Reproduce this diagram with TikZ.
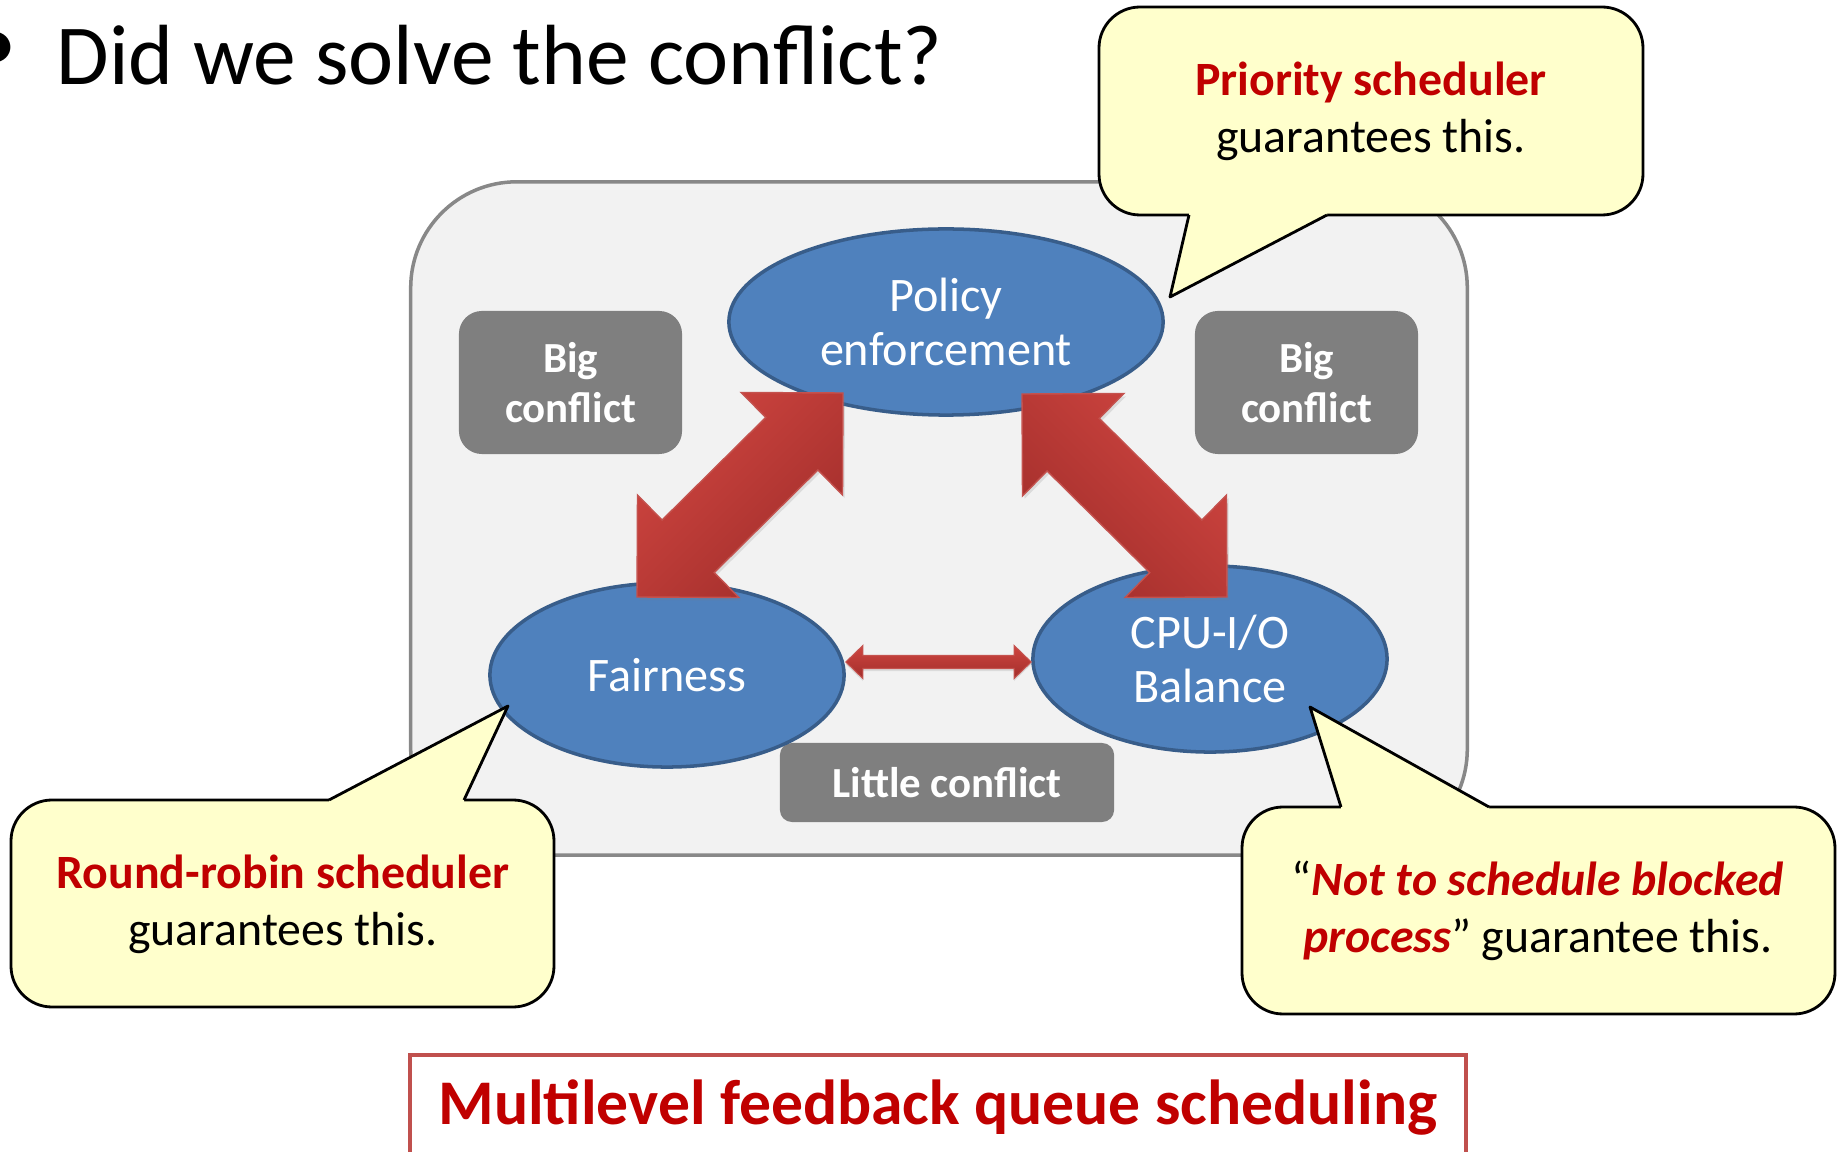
\documentclass[tikz,border=0pt]{standalone}
\usepackage{fontspec}
\setmainfont{Carlito}
\usetikzlibrary{positioning,calc,shapes.geometric,shadows}

\definecolor{goalblue}{HTML}{4F81BD}
\definecolor{goaledge}{HTML}{385D8A}
\definecolor{taggray}{HTML}{7F7F7F}
\definecolor{panelfill}{HTML}{F2F2F2}
\definecolor{paneledge}{HTML}{888888}
\definecolor{noteyellow}{HTML}{FFFFCC}
\definecolor{darkred}{HTML}{C00000}
\definecolor{framered}{HTML}{C0504D}
\definecolor{arrowlight}{HTML}{CF4540}
\definecolor{arrowdark}{HTML}{A22E2B}
\definecolor{arrowedge}{HTML}{C4524E}

% fat double arrow: style, from, to, shaft half width, head length, head half width
\newcommand{\fatarrow}[6]{%
  \coordinate (fa1) at ($(#2)!#5!(#3)$);
  \coordinate (fa2) at ($(#3)!#5!(#2)$);
  \path[#1] (#2) -- ($(fa1)!#6!90:(#3)$) -- ($(fa1)!#4!90:(#3)$)
    -- ($(fa2)!#4!-90:(#2)$) -- ($(fa2)!#6!-90:(#2)$) -- (#3)
    -- ($(fa2)!#6!90:(#2)$) -- ($(fa2)!#4!90:(#2)$)
    -- ($(fa1)!#4!-90:(#3)$) -- ($(fa1)!#6!-90:(#3)$) -- cycle;
}

\begin{document}
\begin{tikzpicture}[
    x=0.01cm, y=-0.01cm,
    panel/.style={draw=paneledge, fill=panelfill, line width=1pt, rounded corners=1.06cm},
    goal/.style={ellipse, draw=goaledge, fill=goalblue, line width=1pt, text=white,
                 align=center, inner sep=0pt, font=\fontsize{13.7}{15.6}\selectfont},
    tag/.style={fill=taggray, rounded corners=0.23cm, text=white, align=center,
                font=\bfseries\fontsize{12.2}{14.2}\selectfont},
    note/.style={draw=black, fill=noteyellow, line width=0.8pt, line join=round},
    notetext/.style={align=center, inner sep=0pt, font=\fontsize{13.6}{16.2}\selectfont},
    bigarr/.style={draw=arrowedge, line width=0.4pt, left color=arrowlight, right color=arrowdark,
                   drop shadow={shadow xshift=0.02cm, shadow yshift=-0.03cm, opacity=0.2}},
  ]
  \useasboundingbox (0,0) rectangle (1841,1152);

  % Heading
  \node[inner sep=0pt, font=\fontsize{24.3}{29}\selectfont] (bullet) at (-4,52) {•};
  \node[anchor=base west, inner sep=0pt, font=\fontsize{24.3}{29}\selectfont]
       (title) at (56,85) {Did we solve the conflict?};

  % Grey panel with the three goals
  \node[panel, minimum width=10.56cm, minimum height=6.73cm] (panel) at (939,518.5) {};
  \node[tag, minimum width=2.23cm, minimum height=1.43cm] (bigL) at (570.5,382.5) {Big\\conflict};
  \node[tag, minimum width=2.23cm, minimum height=1.43cm] (bigR) at (1306.5,382.5) {Big\\conflict};
  \node[tag, minimum width=3.34cm, minimum height=0.79cm, rounded corners=0.12cm]
       (little) at (947,782.5) {Little conflict};

  \node[goal, minimum width=4.34cm, minimum height=1.86cm] (policy) at (946,322) {Policy\\enforcement};
  \node[goal, minimum width=3.54cm, minimum height=1.84cm] (fair) at (667,675) {Fairness};
  \node[goal, minimum width=3.54cm, minimum height=1.86cm] (cpu) at (1210,659) {CPU-I/O\\Balance};

  % Arrows between the goals
  \coordinate (fairTip) at (637,597);
  \coordinate (polTipL) at (843,393);
  \coordinate (polTipR) at (1022,394);
  \coordinate (cpuTip)  at (1227,597);
  \coordinate (fairR)   at (fair.east |- 0,662);
  \coordinate (cpuL)    at (cpu.west |- 0,662);
  \fatarrow{bigarr, shading angle=45}{fairTip}{polTipL}{0.37cm}{0.72cm}{0.72cm}
  \fatarrow{bigarr, shading angle=-45}{polTipR}{cpuTip}{0.37cm}{0.72cm}{0.72cm}
  \fatarrow{draw=arrowedge, line width=0.3pt, top color=arrowlight, bottom color=arrowdark,
            drop shadow={shadow xshift=0cm, shadow yshift=-0.025cm, opacity=0.2}}%
           {fairR}{cpuL}{0.065cm}{0.17cm}{0.165cm}

  % Callouts
  \draw[note, rounded corners=0.41cm] (1099,7) rectangle (1643,215);
  \fill[noteyellow] (1189,211) -- (1189,215) -- (1170,297) -- (1327,215) -- (1327,211) -- cycle;
  \draw[note, fill=none] (1189,215) -- (1170,297) -- (1327,215);
  \node[notetext] (prio) at (1371,111)
       {\textcolor{darkred}{\bfseries Priority scheduler}\\guarantees this.};

  \draw[note, rounded corners=0.41cm] (11,800) rectangle (554,1007);
  \fill[noteyellow] (329,804) -- (329,800) -- (508,706) -- (464,800) -- (464,804) -- cycle;
  \draw[note, fill=none] (329,800) -- (508,706) -- (464,800);
  \node[notetext] (rr) at (283,904)
       {\textcolor{darkred}{\bfseries Round-robin scheduler}\\guarantees this.};

  \draw[note, rounded corners=0.41cm] (1242,807) rectangle (1835,1014);
  \fill[noteyellow] (1341,811) -- (1341,807) -- (1310,707) -- (1489,807) -- (1489,811) -- cycle;
  \draw[note, fill=none] (1341,807) -- (1310,707) -- (1489,807);
  \node[notetext] (blocked) at (1538,911)
       {“\textcolor{darkred}{\bfseries\itshape Not to schedule blocked}\\
        \textcolor{darkred}{\bfseries\itshape process}” guarantee this.};

  % Answer
  \node[draw=framered, line width=1.2pt, minimum width=10.56cm, minimum height=1.06cm,
        text=darkred, font=\bfseries\fontsize{18.1}{22}\selectfont]
       (mlfq) at (938,1108) {Multilevel feedback queue scheduling};
\end{tikzpicture}
\end{document}
